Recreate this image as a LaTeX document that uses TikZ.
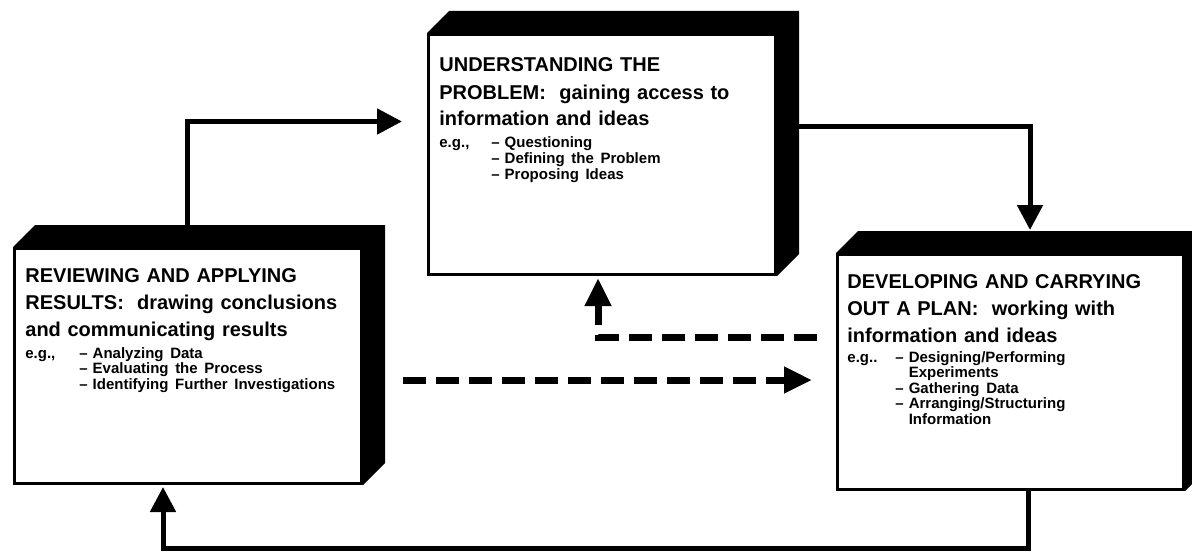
\documentclass[tikz,border=0pt]{standalone}
\usepackage{fontspec}
\setmainfont{Liberation Sans}
\usetikzlibrary{arrows.meta}

\newcommand{\headfont}{\bfseries\fontsize{10}{13.5}\selectfont}
\newcommand{\itemfont}{\bfseries\fontsize{7.5}{7.8}\selectfont}
% black top and right side of a stage box
\newcommand{\boxdepth}[1]{\fill (#1.north west) -- ++(22,-22) -| ([xshift=11pt,yshift=11pt]#1.south east) -- (#1.south east) -- (#1.north east) -- cycle;}

\tikzset{
  face/.style={draw, line width=1.5pt, fill=white, inner sep=0pt, anchor=north west},
  stagetext/.style={anchor=base west, inner sep=0pt, text width=175pt},
  flow/.style={line width=2.5pt, -{Triangle[length=12.5pt,width=12.5pt]}},
  retro/.style={line width=3.5pt, dash pattern=on 11.5pt off 5pt, -{Triangle[length=14pt,width=12.5pt]}},
}

\begin{document}
\begin{tikzpicture}[x=0.5pt, y=-0.5pt]
\useasboundingbox (0,0) rectangle (1192,551);

% stage boxes
\node[face, minimum width=173.5pt, minimum height=120pt] (boxU) at (427,33) {};
\node[face, minimum width=173.5pt, minimum height=117.5pt] (boxL) at (13,247) {};
\node[face, minimum width=173pt, minimum height=117.5pt] (boxR) at (836,253) {};
\boxdepth{boxU}
\boxdepth{boxL}
\boxdepth{boxR}

% texts
\node[stagetext] (txtU) at ([xshift=6pt,yshift=-19.5pt]boxU.north west) {%
  {\headfont UNDERSTANDING THE\\ PROBLEM:\ \ gaining access to\\ information and ideas\par}
  \vspace{-1pt}\itemfont\begin{tabular}[t]{@{}p{26pt}@{}l@{\hspace{2.5pt}}l@{}}
  e.g., & -- & Questioning\\
        & -- & Defining the Problem\\
        & -- & Proposing Ideas
  \end{tabular}};
\node[stagetext] (txtL) at ([xshift=6pt,yshift=-17.5pt]boxL.north west) {%
  {\headfont REVIEWING AND APPLYING\\ RESULTS:\ \ drawing conclusions\\ and communicating results\par}
  \vspace{-1pt}\itemfont\begin{tabular}[t]{@{}p{27pt}@{}l@{\hspace{2.5pt}}l@{}}
  e.g., & -- & Analyzing Data\\
        & -- & Evaluating the Process\\
        & -- & Identifying Further Investigations
  \end{tabular}};
\node[stagetext] (txtR) at ([xshift=5.5pt,yshift=-17.5pt]boxR.north west) {%
  {\headfont DEVELOPING AND CARRYING\\ OUT A PLAN:\ \ working with\\ information and ideas\par}
  \vspace{-2pt}\itemfont\begin{tabular}[t]{@{}p{24pt}@{}l@{\hspace{2.5pt}}l@{}}
  e.g.. & -- & Designing/Performing\\
        &    & Experiments\\
        & -- & Gathering Data\\
        & -- & Arranging/Structuring\\
        &    & Information
  \end{tabular}};

% main cycle
\draw[flow] ([xshift=87pt,yshift=11pt]boxL.north west) |- ([xshift=-12.5pt,yshift=16.5pt]boxU.west);
\draw[flow] ([xshift=8pt,yshift=14pt]boxU.east) -| ([xshift=97pt,yshift=11.5pt]boxR.north west);
\draw[flow] ([xshift=96pt]boxR.south west) -- ++(0,57) -| ([xshift=75pt,yshift=-1pt]boxL.south west);

% feedback (dashed)
\draw[retro] ([xshift=-9.5pt,yshift=-42pt]boxR.north west) -| ([xshift=85.5pt,yshift=-1pt]boxU.south west);
\draw[retro] ([xshift=20pt,yshift=-66.5pt]boxL.north east) -- ([xshift=-12pt,yshift=-63.5pt]boxR.north west);
\end{tikzpicture}
\end{document}
